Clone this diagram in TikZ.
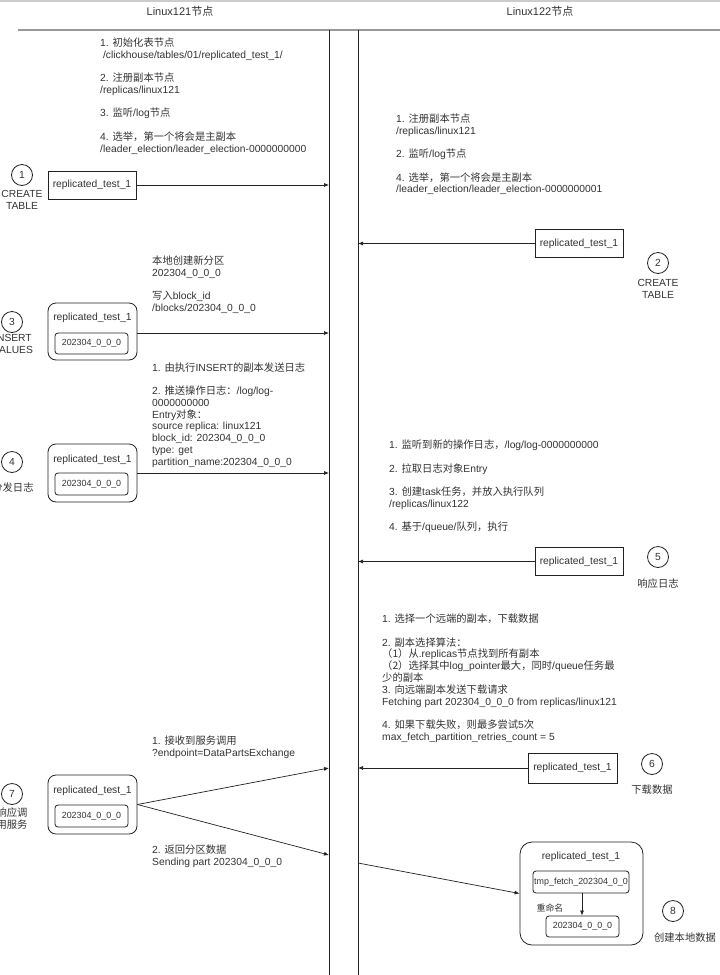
\documentclass[tikz,border=0pt]{standalone}
\usepackage{fontspec}
\setmainfont{Liberation Sans}
\newfontfamily\cjk{Noto Sans CJK SC}
\usetikzlibrary{arrows.meta}
\newcommand\C[1]{{\cjk #1}}
\newcommand\st{\rule{0pt}{9.5pt}}
\newcommand\gap{\\[11.5pt]}
\definecolor{txt}{HTML}{333333}
\definecolor{ln}{HTML}{222222}
\begin{document}
\begin{tikzpicture}[x=1pt,y=-1pt,
  every node/.style={font=\fontsize{10.3}{11.8}\selectfont, text=txt, inner sep=0pt},
  txtblk/.style={align=left, anchor=north west},
  lbl/.style={align=center, anchor=north},
  rbox/.style={draw=ln, line width=0.8pt, minimum width=88pt, minimum height=28pt},
  gbox/.style={draw=ln, line width=0.8pt, rounded corners=8pt},
  ibox/.style={draw=ln, line width=0.8pt, rounded corners=3pt, font=\fontsize{8.9}{10}\selectfont},
  num/.style={circle, draw=ln, line width=0.8pt, minimum size=21pt},
  lane/.style={draw=ln, line width=0.8pt},
  arr/.style={draw=ln, line width=0.7pt, -{Latex[length=5pt,width=4pt]}}]
\fill[white] (0,0) rectangle (720,975);
\useasboundingbox (0,0) rectangle (720,975);
% top border and header line
\draw[black!20, line width=1.5pt] (0,0.75) -- (720,0.75);
\node (t1) at (180,11) {\fontsize{11}{12}\selectfont Linux121\C{节点}};
\node (t2) at (540,11) {\fontsize{11}{12}\selectfont Linux122\C{节点}};
\coordinate (hl) at (18,30);
\coordinate (hr) at (720,30);
\draw[black!40, line width=2pt] (hl) -- (hr);
% lanes
\coordinate (Ltop) at (329,30); \coordinate (Lbot) at (329,975);
\coordinate (Rtop) at (358,30); \coordinate (Rbot) at (358,975);
\draw[lane] (Ltop) -- (Lbot);
\draw[lane] (Rtop) -- (Rbot);

% ---------- text blocks ----------
\node[txtblk] (ta) at (100,37) {\st 1. \C{初始化表节点}\\\ /clickhouse/tables/01/replicated\_test\_1/\gap 2. \C{注册副本节点}\\/replicas/linux121\gap 3. \C{监听}/log\C{节点}\gap 4. \C{选举，第一个将会是主副本}\\/leader\_election/leader\_election-0000000000};
\node[txtblk] (tr1) at (396,113) {\st 1. \C{注册副本节点}\\/replicas/linux121\gap 2. \C{监听}/log\C{节点}\gap 4. \C{选举，第一个将会是主副本}\\/leader\_election/leader\_election-0000000001};
\node[txtblk] (tb) at (152,255) {\st\C{本地创建新分区}\\202304\_0\_0\_0\gap\C{写入}block\_id\\/blocks/202304\_0\_0\_0};
\node[txtblk] (tc) at (152,361.5) {\st 1. \C{由执行}INSERT\C{的副本发送日志}\gap 2. \C{推送操作日志：}/log/log-\\0000000000\\Entry\C{对象：}\\source replica: linux121\\block\_id: 202304\_0\_0\_0\\type: get\\partition\_name:202304\_0\_0\_0};
\node[txtblk] (tr5) at (389,439) {\st 1. \C{监听到新的操作日志，}/log/log-0000000000\gap 2. \C{拉取日志对象}Entry\gap 3. \C{创建}task\C{任务，并放入执行队列}\\/replicas/linux122\gap 4. \C{基于}/queue/\C{队列，执行}};
\node[txtblk] (tr6) at (382,613) {\st 1. \C{选择一个远端的副本，下载数据}\gap 2. \C{副本选择算法：}\\\C{（1）从}.replicas\C{节点找到所有副本}\\\C{（2）选择其中}log\_pointer\C{最大，同时}/queue\C{任务最}\\\C{少的副本}\\3. \C{向远端副本发送下载请求}\\Fetching part 202304\_0\_0\_0 from replicas/linux121\gap 4. \C{如果下载失败，则最多尝试}5\C{次}\\max\_fetch\_partition\_retries\_count = 5};
\node[txtblk] (t7a) at (152,735) {\st 1. \C{接收到服务调用}\\?endpoint=DataPartsExchange};
\node[txtblk] (t7b) at (152,844) {\st 2. \C{返回分区数据}\\Sending part 202304\_0\_0\_0};

% ---------- boxes ----------
\node[rbox] (b1) at (92,185) {replicated\_test\_1};
\node[rbox] (b2) at (579,243.5) {replicated\_test\_1};
\node[rbox] (b5) at (579,561.5) {replicated\_test\_1};
\node[rbox, minimum width=89pt, minimum height=30pt] (b6) at (572.5,768) {replicated\_test\_1};

\node[gbox, minimum width=89pt, minimum height=57pt] (g3) at (92.5,331.5) {};
\node (g3h) at (92.5,318) {replicated\_test\_1};
\node[ibox, minimum width=73pt, minimum height=21pt] (g3i) at (91.5,343.5) {202304\_0\_0\_0};

\node[gbox, minimum width=89pt, minimum height=58pt] (g4) at (92.5,473) {};
\node (g4h) at (92.5,460) {replicated\_test\_1};
\node[ibox, minimum width=73pt, minimum height=22pt] (g4i) at (91.5,484) {202304\_0\_0\_0};

\node[gbox, minimum width=89pt, minimum height=59pt] (g7) at (92.5,804.5) {};
\node (g7h) at (92.5,791) {replicated\_test\_1};
\node[ibox, minimum width=73pt, minimum height=22pt] (g7i) at (91.5,816) {202304\_0\_0\_0};

\node[gbox, minimum width=123pt, minimum height=103pt, rounded corners=12pt] (g8) at (581.5,893.5) {};
\node (g8h) at (581,857) {replicated\_test\_1};
\node[ibox, minimum width=96pt, minimum height=22pt] (g8a) at (581,882) {tmp\_fetch\_202304\_0\_0};
\node[ibox, minimum width=73pt, minimum height=21pt] (g8b) at (582.5,926.5) {202304\_0\_0\_0};
\node[font=\fontsize{8.9}{10}\selectfont] (rn) at (550,908) {\C{重命名}};

% ---------- circles and labels ----------
\node[num] (c1) at (22,175) {1};
\node[lbl] (l1) at (22,188) {\st CREATE\\TABLE};
\node[num] (c2) at (658,263) {2};
\node[lbl] (l2) at (658,277) {\st CREATE\\TABLE};
\node[num] (c3) at (12,322) {3};
\node[lbl] (l3) at (13,332) {\st INSERT\\VALUES};
\node[num] (c4) at (12,462) {4};
\node[lbl] (l4) at (13,482) {\st\C{分发日志}};
\node[num] (c5) at (658,557) {5};
\node[lbl] (l5) at (658,578) {\st\C{响应日志}};
\node[num] (c6) at (652,764) {6};
\node[lbl] (l6) at (652,784) {\st\C{下载数据}};
\node[num] (c7) at (12,794) {7};
\node[lbl] (l7) at (12,807) {\st\C{响应调}\\\C{用服务}};
\node[num] (c8) at (673,911) {8};
\node[lbl] (l8) at (685,932) {\st\C{创建本地数据}};

% ---------- connectors ----------
\coordinate (e1) at (329,185);
\coordinate (e2) at (358,243.5);
\coordinate (e3) at (329,333);
\coordinate (e4) at (329,473);
\coordinate (e5) at (358,561.5);
\coordinate (e6) at (358,768);
\coordinate (e7a) at (329,768);
\coordinate (e7b) at (329,855);
\coordinate (s8) at (358,863);
\draw[arr] (b1) -- (e1);
\draw[arr] (b2) -- (e2);
\draw[arr] (g3.east |- e3) -- (e3);
\draw[arr] (g4) -- (e4);
\draw[arr] (b5) -- (e5);
\draw[arr] (b6) -- (e6);
\draw[arr] (g7.east) -- (e7a);
\draw[arr] (g7.east) -- (e7b);
\draw[arr] (s8) -- (g8.west);
\draw[arr] (g8a.south -| 582,0) -- (g8b.north -| 582,0);
\end{tikzpicture}
\end{document}
